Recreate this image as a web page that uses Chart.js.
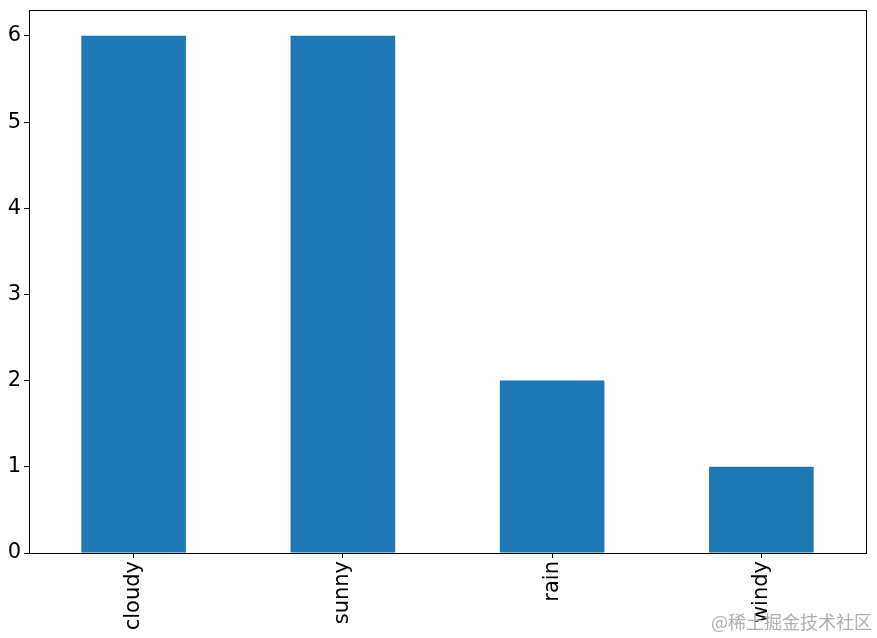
<!DOCTYPE html>
<html lang="en">
<head>
    <meta charset="UTF-8">
    <title>Weather counts</title>
    <script src="https://cdn.jsdelivr.net/npm/chart.js"></script>
    <style>
        body { margin: 0; background: #fff; }
        #wrap { position: relative; width: 877px; height: 638px; }
        #mark { position: absolute; left: 711px; top: 608px; font-family: "Noto Sans CJK SC", sans-serif; font-size: 18px; color: #b0b0b0; white-space: nowrap; }
    </style>
</head>
<body>
<div id="wrap">
    <canvas id="weatherChart" width="877" height="638"></canvas>
    <div id="mark">@稀土掘金技术社区</div>
</div>
<script>
    // data
    var categories = ['cloudy', 'sunny', 'rain', 'windy'];
    var counts = [6, 6, 2, 1];
    var yTicks = [0, 1, 2, 3, 4, 5, 6];
    var yMax = 6.3;

    // draws the frame round the plot area, like matplotlib's spines
    var frame = {
        id: 'frame',
        afterDraw: function(chart) {
            var a = chart.chartArea, c = chart.ctx;
            c.save();
            c.strokeStyle = '#000';
            c.lineWidth = 1;
            c.strokeRect(Math.round(a.left) + 0.5, Math.round(a.top) + 0.5, Math.round(a.right - a.left), Math.round(a.bottom - a.top));
            c.restore();
        }
    };

    var font = { family: 'DejaVu Sans', size: 21 };

    new Chart(document.getElementById('weatherChart'), {
        type: 'bar',
        data: {
            labels: categories,
            datasets: [{
                data: counts,
                backgroundColor: '#1f77b4',
                borderWidth: 0,
                inflateAmount: 0,
                barPercentage: 0.5,
                categoryPercentage: 1.0
            }]
        },
        options: {
            responsive: false,
            animation: false,
            layout: { padding: { top: 10, right: 11, left: 0, bottom: 0 } },
            plugins: { legend: { display: false }, tooltip: { enabled: false } },
            scales: {
                x: {
                    grid: { display: true, offset: false, drawOnChartArea: false, drawTicks: true, tickLength: 5, color: '#000' },
                    border: { display: false },
                    ticks: { color: '#000', font: font, minRotation: 90, maxRotation: 90, padding: 3, autoSkip: false },
                    afterFit: function(s) { s.height = 85; s.paddingLeft = 0; s.paddingRight = 0; }
                },
                y: {
                    min: 0,
                    max: yMax,
                    grid: { display: true, drawOnChartArea: false, drawTicks: true, tickLength: 5, color: '#000' },
                    border: { display: false },
                    ticks: { color: '#000', font: font, padding: 3 },
                    afterBuildTicks: function(s) { s.ticks = yTicks.map(function(v) { return { value: v }; }); },
                    afterFit: function(s) { s.width = 29; s.paddingTop = 0; s.paddingBottom = 0; }
                }
            }
        },
        plugins: [frame]
    });
</script>
</body>
</html>
